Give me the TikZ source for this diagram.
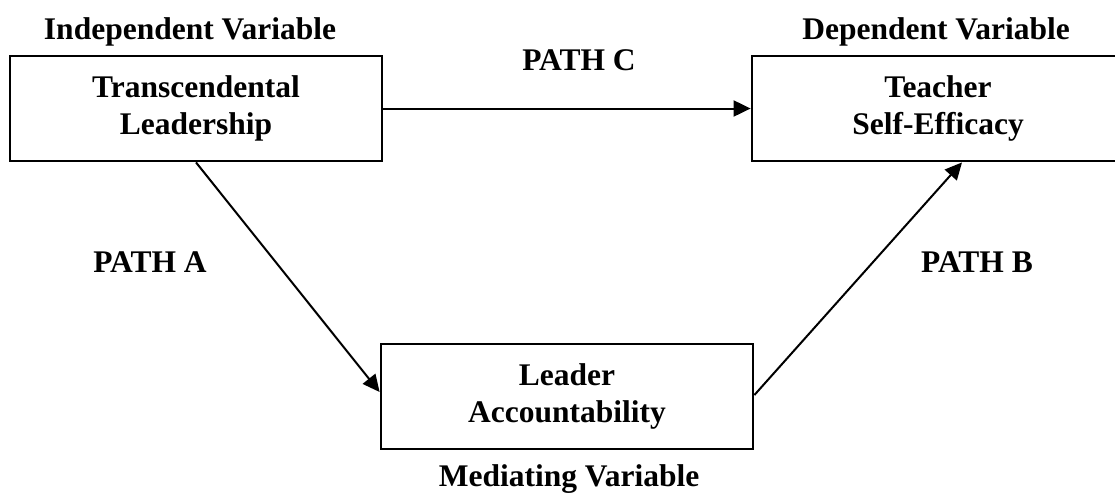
\documentclass[tikz,border=0pt]{standalone}
\usepackage{fontspec}
\setmainfont{Liberation Serif}
\usetikzlibrary{arrows.meta}
\begin{document}
\begin{tikzpicture}[x=1pt,y=-1pt,
  txt/.style={font=\fontsize{31.5}{36.5}\selectfont\bfseries},
  varbox/.style={txt,draw,line width=2.8pt,minimum width=372pt,minimum height=105pt,align=center,inner sep=0pt},
  lbl/.style={txt,anchor=base,inner sep=0pt},
  conn/.style={line width=2pt,-{Triangle[length=17pt,width=16pt]}}]
\useasboundingbox (0,0) rectangle (1115,493);
\clip (0,0) rectangle (1115,493);
\node[varbox] (b1) at (196,108.5) {Transcendental\\Leadership};
\node[varbox] (b2) at (938,108.5) {Teacher\\Self-Efficacy};
\node[varbox] (b3) at (567,396.5) {Leader\\Accountability};
\node[lbl] (iv) at (190,39) {Independent Variable};
\node[lbl] (dv) at (936,39) {Dependent Variable};
\node[lbl] (mv) at (569,486) {Mediating Variable};
\node[lbl] (pc) at (579,70) {PATH C};
\node[lbl] (pa) at (150,272) {PATH A};
\node[lbl] (pb) at (977,272) {PATH B};
\draw[conn] (b1.east) -- (b2.west);
\draw[conn] (b1.south) -- ([yshift=4.5pt]b3.west);
\draw[conn] ([yshift=1.5pt]b3.east) -- ([xshift=24pt]b2.south);
\end{tikzpicture}
\end{document}
